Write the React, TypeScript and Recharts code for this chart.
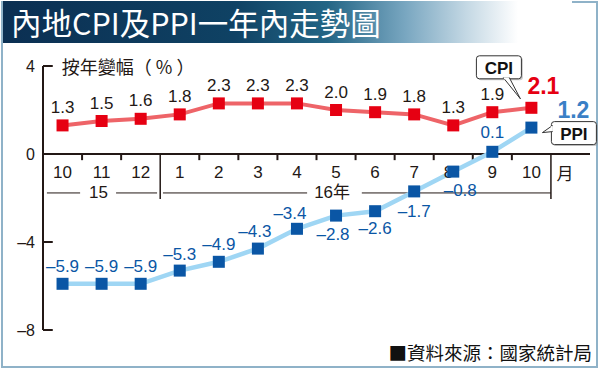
import { LabelList, Line, LineChart, ReferenceDot, ReferenceLine, XAxis, YAxis } from "recharts";

const months = ["10", "11", "12", "1", "2", "3", "4", "5", "6", "7", "8", "9", "10"];
const cpi = [1.3, 1.5, 1.6, 1.8, 2.3, 2.3, 2.3, 2.0, 1.9, 1.8, 1.3, 1.9, 2.1];
const ppi = [-5.9, -5.9, -5.9, -5.3, -4.9, -4.3, -3.4, -2.8, -2.6, -1.7, -0.8, 0.1, 1.2];
const yTicks = [-8, -4, 0, 4];
const years = ["15", "16年"];

const rows = months.map((m, i) => ({ i, month: m, cpi: cpi[i], ppi: ppi[i] }));

const INK = "#231815";
const RED = "#e60012";
const BLUE = "#0a56a5";
const NUM = "'Liberation Sans', Arial, sans-serif";
const CJK = "'Noto Sans CJK TC', 'Noto Sans CJK SC', sans-serif";
const MIX = "'Liberation Sans', 'Noto Sans CJK TC', sans-serif";

// label offsets (px) for ppi values, last one drawn separately
const ppiOffset = [
  [0, -17], [0, -17], [0, -17], [0, -16], [0, -17], [-3, -17],
  [-7, -15], [-3, 19], [0, 17], [0, 20], [7, 19], [0, -19],
];

const fmt = (v: number) => (v < 0 ? "–" + Math.abs(v).toFixed(1) : v.toFixed(1));

function note(key: string, x: number, y: number, text: string, style: any) {
  return (
    <ReferenceDot
      key={key}
      x={x}
      y={y}
      r={1}
      shape={(p: any) => (
        <text x={p.cx} y={p.cy} dominantBaseline="central" textAnchor="middle" {...style}>
          {text}
        </text>
      )}
    />
  );
}

function seg(key: string, x1: number, y1: number, x2: number, y2: number, w = 1.5) {
  return (
    <ReferenceLine
      key={key}
      segment={[{ x: x1, y: y1 }, { x: x2, y: y2 }]}
      stroke={INK}
      strokeWidth={w}
    />
  );
}

const square = (fill: string) => (p: any) =>
  <rect key={p.index} x={p.cx - 6} y={p.cy - 6} width={12} height={12} fill={fill} />;

const cpiLabel = (p: any) => {
  if (p.index === cpi.length - 1) {
    return (
      <text x={p.x + 12} y={p.y - 22} textAnchor="middle" dominantBaseline="central"
        fontSize={23} fontWeight="bold" fill={RED} fontFamily={NUM}>
        {fmt(p.value)}
      </text>
    );
  }
  return (
    <text x={p.x} y={p.y - 18} textAnchor="middle" dominantBaseline="central"
      fontSize={17} fill={INK} fontFamily={NUM}>
      {fmt(p.value)}
    </text>
  );
};

const ppiLabel = (p: any) => {
  if (p.index === ppi.length - 1) {
    return (
      <text x={p.x + 42} y={p.y - 18} textAnchor="middle" dominantBaseline="central"
        fontSize={23} fontWeight="bold" fill="#3a80c6" fontFamily={NUM}>
        {fmt(p.value)}
      </text>
    );
  }
  const [dx, dy] = ppiOffset[p.index];
  return (
    <text x={p.x + dx} y={p.y + dy} textAnchor="middle" dominantBaseline="central"
      fontSize={17} fill={BLUE} fontFamily={NUM}>
      {fmt(p.value)}
    </text>
  );
};

function Callout({ bx, by, w, h, tail, text }: any) {
  return (
    <g>
      <rect x={bx + 1.5} y={by + 1.5} width={w} height={h} rx={3} fill="#9a9a9a" opacity={0.5} />
      <rect x={bx} y={by} width={w} height={h} rx={3} fill="#fff" stroke="#333" strokeWidth={1} />
      <polygon points={tail} fill="#fff" stroke="#333" strokeWidth={1} strokeLinejoin="miter" />
      <text x={bx + w / 2} y={by + h / 2 + 1} textAnchor="middle" dominantBaseline="central"
        fontSize={17} fontWeight="bold" fill="#111" fontFamily={NUM}>
        {text}
      </text>
    </g>
  );
}

const cpiCallout = (p: any) => {
  const bx = p.cx - 55, by = p.cy - 52;
  return (
    <g>
      <Callout bx={bx} by={by} w={45} h={23} text="CPI"
        tail={`${bx + 27},${by + 22} ${p.cx - 11},${p.cy - 9} ${bx + 33},${by + 22}`} />
      <line x1={bx + 27.5} y1={by + 22.5} x2={bx + 32.5} y2={by + 22.5} stroke="#fff" strokeWidth={2} />
    </g>
  );
};

const ppiCallout = (p: any) => {
  const bx = p.cx + 20, by = p.cy - 6;
  return (
    <g>
      <Callout bx={bx} by={by} w={45} h={23} text="PPI"
        tail={`${bx + 1},${by + 4} ${p.cx + 11},${p.cy + 5} ${bx + 1},${by + 10}`} />
      <line x1={bx + 0.5} y1={by + 4.5} x2={bx + 0.5} y2={by + 9.5} stroke="#fff" strokeWidth={2} />
    </g>
  );
};

export default function App() {
  const last = months.length - 1;
  return (
    <div style={{ position: "absolute", left: 0, top: 0, width: 600, height: 372, background: "#fff", overflow: "hidden" }}>
      <div style={{ position: "absolute", left: 1, top: 1, width: 597, height: 367, boxSizing: "border-box", border: "2px solid #8fb2c8" }} />
      <div style={{ position: "absolute", left: 518, top: 0, width: 54, height: 5, background: "#fff" }} />
      <div
        style={{
          position: "absolute", left: 3, top: 1, width: 515, height: 42,
          background: "linear-gradient(90deg, #0b2f52 0%, #0f4264 45%, #236585 63%, #78a6c0 78%, #c4d8e4 90%, #ffffff 100%)",
        }}
      />
      <div style={{ position: "absolute", left: 11, top: 1, height: 42, lineHeight: "42px", color: "#fff", fontSize: 30.5, fontFamily: CJK, whiteSpace: "nowrap" }}>
        內地CPI及PPI一年內走勢圖
      </div>

      <div style={{ position: "absolute", left: 0, top: 0 }}>
        <LineChart width={600} height={372} data={rows} margin={{ top: 66, right: 10, bottom: 42, left: 13 }}>
          <XAxis type="number" dataKey="i" domain={[-0.5, 13.5]} hide />
          <YAxis
            type="number"
            domain={[-8, 4]}
            ticks={yTicks}
            interval={0}
            width={30}
            axisLine={{ stroke: INK, strokeWidth: 2 }}
            tickLine={false}
            tickSize={0}
            tickMargin={8}
            tick={{ fontSize: 16, fill: INK, fontFamily: NUM }}
            tickFormatter={(v: number) => String(v).replace("-", "–")}
          />
          {yTicks.map((t) => seg("yt" + t, -0.5, t, -0.25, t, 2))}
          <ReferenceLine y={0} stroke={INK} strokeWidth={2} />
          {months.map((_, k) =>
            k === 2 || k === last
              ? seg("sep" + k, k + 0.5, 0, k + 0.5, -2.05)
              : seg("tk" + k, k + 0.5, 0, k + 0.5, -0.28, 2)
          )}
          {seg("g1a", -0.4, -1.77, 0.45, -1.77, 1)}
          {seg("g1b", 1.37, -1.77, 2.42, -1.77, 1)}
          {seg("g2a", 2.57, -1.77, 6.26, -1.77, 1)}
          {seg("g2b", 7.66, -1.77, 12.5, -1.77, 1)}
          {note("y15", 0.92, -1.77, years[0], { fontSize: 17, fill: INK, fontFamily: MIX })}
          {note("y16", 6.9, -1.77, years[1], { fontSize: 17, fill: INK, fontFamily: MIX })}
          {months.map((m, k) =>
            note("m" + k, k === 10 ? k - 0.12 : k, -0.86, m, { fontSize: 17, fill: INK, fontFamily: NUM })
          )}
          {note("mo", 12.86, -0.86, "月", { fontSize: 17, fill: INK, fontFamily: CJK })}
          {note("unit", -0.02, 4, "按年變幅（ % ）", { fontSize: 18, fill: INK, fontFamily: CJK, textAnchor: "start" })}

          <Line
            dataKey="cpi"
            stroke="#ee6468"
            strokeWidth={4}
            dot={square(RED)}
            activeDot={false}
            isAnimationActive={false}
          >
            <LabelList dataKey="cpi" content={cpiLabel} />
          </Line>
          <Line
            dataKey="ppi"
            stroke="#9fd6f4"
            strokeWidth={4.5}
            dot={square(BLUE)}
            activeDot={false}
            isAnimationActive={false}
          >
            <LabelList dataKey="ppi" content={ppiLabel} />
          </Line>
          <ReferenceDot x={last} y={cpi[last]} r={1} shape={cpiCallout} />
          <ReferenceDot x={last} y={ppi[last]} r={1} shape={ppiCallout} />
        </LineChart>
      </div>

      <div style={{ position: "absolute", right: 8, top: 340, fontSize: 18.5, lineHeight: "24px", color: "#111", fontFamily: CJK, whiteSpace: "nowrap" }}>
        ■資料來源：國家統計局
      </div>
    </div>
  );
}
